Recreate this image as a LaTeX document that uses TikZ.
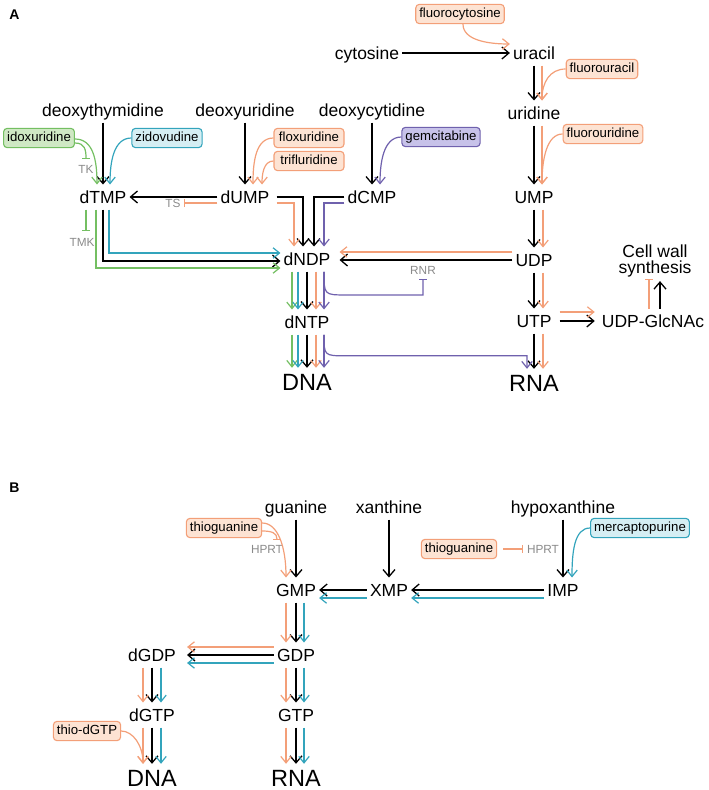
\documentclass[tikz,border=0pt]{standalone}
\usepackage{fontspec}
\setmainfont{Liberation Sans}
\usepackage{tikz}
\usetikzlibrary{arrows.meta,calc}
\definecolor{oraL}{HTML}{F39F78}
\definecolor{oraF}{HTML}{FDE3D3}
\definecolor{grnL}{HTML}{74BF62}
\definecolor{grnF}{HTML}{CFE8C4}
\definecolor{cynL}{HTML}{33A4BC}
\definecolor{cynF}{HTML}{D5EEF3}
\definecolor{purL}{HTML}{6F61AD}
\definecolor{purF}{HTML}{C7C2E9}
\definecolor{enzC}{HTML}{8A8A8A}
\newcommand{\metfont}{\fontsize{17.5}{20}\selectfont}
\newcommand{\bigfont}{\fontsize{23.5}{26}\selectfont}
\newcommand{\drugfont}{\fontsize{13.2}{15}\selectfont}
\newcommand{\enzfont}{\fontsize{11.8}{13}\selectfont}

\begin{document}
\begin{tikzpicture}[x=1pt,y=-1pt,
  met/.style={font=\metfont,text height=12.6pt,text depth=0pt,inner xsep=3pt,inner ysep=6pt},
  big/.style={font=\bigfont,text height=17pt,text depth=0pt,inner xsep=3pt,inner ysep=5.5pt},
  drugbox/.style={draw=#1L,fill=#1F,rounded corners=3.5pt,line width=1.1pt,font=\drugfont,
    text height=9.6pt,text depth=2.8pt,inner xsep=3.5pt,inner ysep=3.4pt},
  enz/.style={font=\enzfont,text=enzC,text height=8.5pt,text depth=0pt,inner sep=1.5pt},
  flow/.style={draw=black,line width=1.3pt,-{Straight Barb[length=7pt,width=12pt]}},
  drug/.style={draw=#1,line width=1.2pt,-{Straight Barb[length=6.5pt,width=10.5pt]}},
  inhib/.style={draw=#1,line width=1.2pt,-{Bar[width=8pt]}},
  panel/.style={font=\fontsize{14}{16}\selectfont\bfseries}]
\useasboundingbox (0,0) rectangle (709,790);

\node[panel] (pA) at (14.5,15) {A};
\node[met] (cytosine) at (367,53) {cytosine};
\node[met] (uracil) at (534,53) {uracil};
\node[met] (uridine) at (534,113) {uridine};
\node[met] (UMP) at (534,197) {UMP};
\node[met] (UDP) at (534,260) {UDP};
\node[met] (UTP) at (534,321) {UTP};
\node[big] (RNAa) at (534,383) {RNA};
\node[met] (dThd) at (103,110) {deoxythymidine};
\node[met] (dUrd) at (245,110) {deoxyuridine};
\node[met] (dCyd) at (372,110) {deoxycytidine};
\node[met] (dTMP) at (103,197) {dTMP};
\node[met] (dUMP) at (245,197) {dUMP};
\node[met] (dCMP) at (372,197) {dCMP};
\node[met] (dNDP) at (307,259) {dNDP};
\node[met] (dNTP) at (307,322) {dNTP};
\node[big] (DNAa) at (307,382) {DNA};
\node[met] (GlcNAc) at (653,321) {UDP-GlcNAc};
\node[font=\fontsize{17.5}{15.5}\selectfont,align=center,inner sep=4pt] (wall) at (655,261) {Cell wall\\synthesis};

\node[drugbox=ora] (fcyt) at (460,14) {fluorocytosine};
\node[drugbox=ora] (fura) at (602,69) {fluorouracil};
\node[drugbox=ora] (furd) at (603,134) {fluorouridine};
\node[drugbox=pur] (gem) at (441,137) {gemcitabine};
\node[drugbox=cyn] (zdv) at (167,138) {zidovudine};
\node[drugbox=grn] (idu) at (39,138) {idoxuridine};
\node[drugbox=ora,minimum width=70pt] (fdur) at (309,138) {floxuridine};
\node[drugbox=ora,minimum width=70pt] (tft) at (309,161) {trifluridine};

\node[enz] (TK) at (86,169) {TK};
\node[enz] (TMK) at (82,242) {TMK};
\node[enz] (TS) at (173,203) {TS};
\node[enz] (RNR) at (423,270) {RNR};

\draw[flow] (cytosine) -- (uracil);
\draw[drug=oraL] ($(fcyt.south)+(3,0)$) .. controls +(0,16) and +(-22,0) .. ($(uracil.west)+(0,-9)$);
\draw[flow] (uracil) -- (uridine);
\draw[drug=oraL] ($(uracil.south)+(8,0)$) -- ($(uridine.north)+(8,0)$);
\draw[drug=oraL] (fura.west) .. controls +(-16,0) and +(0,-18) .. ($(uridine.north)+(8,0)$);
\draw[flow] (uridine) -- (UMP);
\draw[drug=oraL] ($(uridine.south)+(8,0)$) -- ($(UMP.north)+(8,0)$);
\draw[drug=oraL] (furd.west) .. controls +(-16,0) and +(0,-25) .. ($(UMP.north)+(8,0)$);
\draw[flow] (UMP) -- (UDP);
\draw[drug=oraL] ($(UMP.south)+(9,0)$) -- ($(UDP.north)+(9,0)$);
\draw[flow] (UDP) -- (UTP);
\draw[drug=oraL] ($(UDP.south)+(9,0)$) -- ($(UTP.north)+(9,0)$);
\draw[flow] (UTP) -- (RNAa);
\draw[drug=oraL] ($(UTP.south)+(9,0)$) -- ($(RNAa.north)+(9,0)$);

\draw[flow] (dThd) -- (dTMP);
\draw[drug=cynL] (zdv.west) .. controls +(-18,0) and +(0,-22) .. ($(dTMP.north)+(7,0)$);
\draw[drug=grnL] ($(idu.east)+(0,1)$) .. controls +(18,0) and +(0,-25) .. ($(dTMP.north)+(-6,0)$);
\draw[inhib=grnL] ($(idu.east)+(0,5)$) .. controls +(10,0) and +(0,-9) .. ($(TK.north)+(0,-4)$);
\draw[flow] (dUrd) -- (dUMP);
\draw[drug=oraL] (fdur.west) .. controls +(-18,0) and +(0,-22) .. ($(dUMP.north)+(8,0)$);
\draw[drug=oraL] (tft.west) .. controls +(-10,0) and +(0,-10) .. ($(dUMP.north)+(17,0)$);
\draw[flow] (dCyd) -- (dCMP);
\draw[drug=purL] (gem.west) .. controls +(-18,0) and +(0,-22) .. ($(dCMP.north)+(8,0)$);

\draw[flow] (dUMP) -- (dTMP);
\draw[inhib=oraL] ($(dUMP.west)+(0,6)$) -- ($(TS.east)+(2,0)$);
\draw[flow] ($(dUMP.east)+(4,0)$) -| ($(dNDP.north)+(-4,0)$);
\draw[drug=oraL] ($(dUMP.east)+(4,6)$) -| ($(dNDP.north)+(-13,0)$);
\draw[flow] (dCMP.west) -| ($(dNDP.north)+(7,0)$);
\draw[drug=purL] ($(dCMP.west)+(0,6)$) -| ($(dNDP.north)+(17,0)$);

\draw[flow] (dTMP.south) |- ($(dNDP.west)+(0,2)$);
\draw[drug=cynL] ($(dTMP.south)+(6,0)$) |- ($(dNDP.west)+(0,-6)$);
\draw[drug=grnL] ($(dTMP.south)+(-7,0)$) |- ($(dNDP.west)+(0,9)$);
\draw[inhib=grnL] ($(dTMP.south)+(-17,0)$) coordinate (tmk0) -- ($(tmk0 |- TMK.north)+(0,-5)$);

\draw[flow] (UDP.west) -- ($(UDP.west -| dNDP.east)+(6,0)$);
\draw[drug=oraL] ($(UDP.west)+(0,-8)$) coordinate (u8) -- ($(u8 -| dNDP.east)+(6,0)$);
\coordinate (rnr0) at ($(dNDP.south)+(17,0)$);
\coordinate (rnrlow) at ($(RNR.south)+(0,19)$);
\draw[inhib=purL] (rnr0) .. controls (rnr0 |- rnrlow) .. ($(rnr0 |- rnrlow)+(22,0)$) -- (rnrlow) -- ($(RNR.south)+(0,3)$);

\draw[flow] (dNDP) -- (dNTP);
\draw[drug=grnL] ($(dNDP.south)+(-15,0)$) -- ($(dNTP.north)+(-15,0)$);
\draw[drug=cynL] ($(dNDP.south)+(-9,0)$) -- ($(dNTP.north)+(-9,0)$);
\draw[drug=oraL] ($(dNDP.south)+(9,0)$) -- ($(dNTP.north)+(9,0)$);
\draw[drug=purL] ($(dNDP.south)+(17,0)$) -- ($(dNTP.north)+(17,0)$);
\draw[flow] (dNTP) -- (DNAa);
\draw[drug=grnL] ($(dNTP.south)+(-15,0)$) -- ($(DNAa.north)+(-15,0)$);
\draw[drug=cynL] ($(dNTP.south)+(-9,0)$) -- ($(DNAa.north)+(-9,0)$);
\draw[drug=oraL] ($(dNTP.south)+(9,0)$) -- ($(DNAa.north)+(9,0)$);
\draw[drug=purL] ($(dNTP.south)+(17,0)$) -- ($(DNAa.north)+(17,0)$);
\coordinate (rna0) at ($(dNTP.south)+(17,0)$);
\coordinate (rnaturn) at ($(RNAa.north)+(-7,-13)$);
\draw[drug=purL] (rna0) .. controls (rna0 |- rnaturn) .. ($(rna0 |- rnaturn)+(22,0)$) -- (rnaturn) -- ($(RNAa.north)+(-7,0)$);

\draw[flow] ($(UTP.east)+(5,0)$) -- ($(GlcNAc.west)+(-4,0)$);
\draw[drug=oraL] ($(UTP.east)+(5,-9)$) -- ($(GlcNAc.west)+(-4,-9)$);
\draw[flow] ($(GlcNAc.north)+(7,0)$) -- ($(GlcNAc.north |- wall.south)+(7,0)$);
\draw[inhib=oraL] ($(GlcNAc.north)+(-4,0)$) -- ($(GlcNAc.north |- wall.south)+(-4,-2)$);

\node[panel] (pB) at (14.5,488) {B};
\node[met] (gua) at (296,507) {guanine};
\node[met] (xan) at (389,507) {xanthine};
\node[met] (hyp) at (563,507) {hypoxanthine};
\node[met] (GMP) at (296,590) {GMP};
\node[met] (XMP) at (389,590) {XMP};
\node[met] (IMP) at (563,590) {IMP};
\node[met] (GDP) at (296,655) {GDP};
\node[met] (dGDP) at (152,655) {dGDP};
\node[met] (GTP) at (296,715) {GTP};
\node[met] (dGTP) at (152,715) {dGTP};
\node[big] (DNAb) at (152,778) {DNA};
\node[big] (RNAb) at (296,778) {RNA};

\node[drugbox=ora] (tg1) at (224,528) {thioguanine};
\node[drugbox=ora] (tg2) at (459,549) {thioguanine};
\node[drugbox=cyn] (mp) at (640,528) {mercaptopurine};
\node[drugbox=ora] (tdgtp) at (87,731) {thio-dGTP};
\node[enz] (HPRT1) at (267,549) {HPRT};
\node[enz] (HPRT2) at (543,549) {HPRT};

\draw[flow] (gua) -- (GMP);
\draw[drug=oraL] ($(tg1.east)+(0,-5)$) .. controls +(16,0) and +(0,-30) .. ($(GMP.north)+(-10,0)$);
\draw[inhib=oraL] ($(tg1.east)+(0,3)$) .. controls +(10,0) and +(0,-7) .. ($(HPRT1.north)+(10,-3)$);
\draw[flow] (xan) -- (XMP);
\draw[flow] (hyp) -- (IMP);
\draw[drug=cynL] (mp.west) .. controls +(-16,0) and +(0,-25) .. ($(IMP.north)+(9,0)$);
\draw[inhib=oraL,shorten <=6pt] (tg2.east) -- ($(HPRT2.west)+(-2,0)$);

\draw[flow] (IMP) -- (XMP);
\draw[drug=cynL] ($(IMP.west)+(0,8)$) coordinate (i8) -- (i8 -| XMP.east);
\draw[flow] (XMP) -- (GMP);
\draw[drug=cynL] ($(XMP.west)+(0,8)$) coordinate (x8) -- (x8 -| GMP.east);

\draw[flow] (GMP) -- (GDP);
\draw[drug=oraL] ($(GMP.south)+(-10,0)$) -- ($(GDP.north)+(-10,0)$);
\draw[drug=cynL] ($(GMP.south)+(8,0)$) -- ($(GDP.north)+(8,0)$);
\draw[flow] (GDP.west) -- ($(dGDP.east)+(8,0)$);
\draw[drug=oraL] ($(GDP.west)+(0,-8)$) coordinate (g8) -- ($(g8 -| dGDP.east)+(8,0)$);
\draw[drug=cynL] ($(GDP.west)+(0,8)$) coordinate (g9) -- ($(g9 -| dGDP.east)+(8,0)$);

\draw[flow] (dGDP) -- (dGTP);
\draw[drug=oraL] ($(dGDP.south)+(-9,0)$) -- ($(dGTP.north)+(-9,0)$);
\draw[drug=cynL] ($(dGDP.south)+(9,0)$) -- ($(dGTP.north)+(9,0)$);
\draw[flow] (GDP) -- (GTP);
\draw[drug=oraL] ($(GDP.south)+(-10,0)$) -- ($(GTP.north)+(-10,0)$);
\draw[drug=cynL] ($(GDP.south)+(8,0)$) -- ($(GTP.north)+(8,0)$);
\draw[flow] (dGTP) -- (DNAb);
\draw[drug=oraL] ($(dGTP.south)+(-9,0)$) -- ($(DNAb.north)+(-9,0)$);
\draw[drug=cynL] ($(dGTP.south)+(9,0)$) -- ($(DNAb.north)+(9,0)$);
\draw[drug=oraL] (tdgtp.east) .. controls +(12,0) and +(0,-18) .. ($(DNAb.north)+(-9,0)$);
\draw[flow] (GTP) -- (RNAb);
\draw[drug=oraL] ($(GTP.south)+(-10,0)$) -- ($(RNAb.north)+(-10,0)$);
\draw[drug=cynL] ($(GTP.south)+(8,0)$) -- ($(RNAb.north)+(8,0)$);
\end{tikzpicture}
\end{document}
